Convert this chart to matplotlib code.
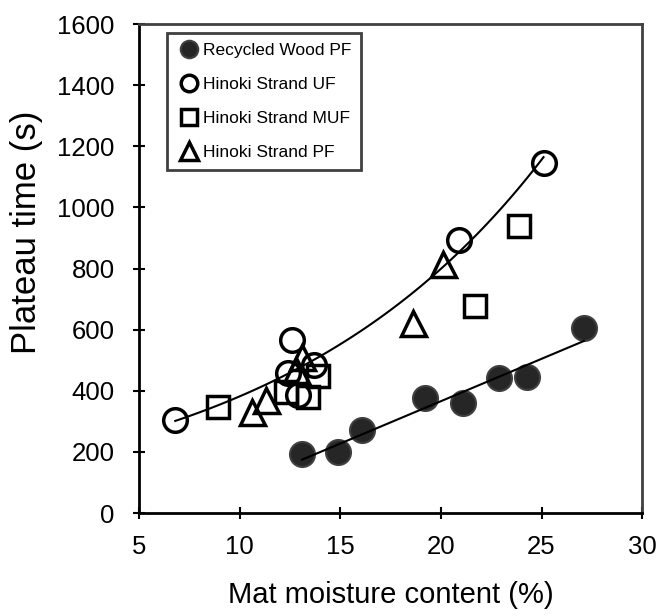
import numpy as np
import matplotlib
matplotlib.use('Agg')
import matplotlib.pyplot as plt

plt.rcParams['font.family'] = ['Liberation Sans', 'DejaVu Sans']

# data
rw_x = [13.1, 14.9, 16.1, 19.2, 21.1, 22.9, 24.3, 27.1]
rw_y = [193, 200, 272, 375, 359, 443, 446, 605]

uf_x = [6.8, 12.4, 12.6, 12.9, 13.7, 20.9, 25.1]
uf_y = [304, 457, 567, 386, 484, 893, 1144]

muf_x = [8.9, 12.3, 13.4, 13.9, 21.7, 23.9]
muf_y = [348, 397, 381, 448, 678, 939]

pf_x = [10.6, 11.3, 12.8, 13.1, 18.6, 20.1]
pf_y = [331, 370, 468, 511, 621, 815]

labels = ['Recycled Wood PF', 'Hinoki Strand UF', 'Hinoki Strand MUF', 'Hinoki Strand PF']

fig = plt.figure(figsize=(6.62, 6.16), dpi=100)
ax = fig.add_axes([0.21, 0.167, 0.76, 0.794])

ax.plot(rw_x, rw_y, 'o', ms=18, mfc='#262626', mec='#404040', mew=1.5, ls='none', label=labels[0])
ax.plot(uf_x, uf_y, 'o', ms=17, mfc='none', mec='black', mew=2.5, ls='none', label=labels[1])
ax.plot(muf_x, muf_y, 's', ms=16, mfc='none', mec='black', mew=2.5, ls='none', label=labels[2])
ax.plot(pf_x, pf_y, '^', ms=18, mfc='none', mec='black', mew=2.5, ls='none', label=labels[3])

# trend lines
b, a = np.polyfit(uf_x, np.log(uf_y), 1)
xs = np.linspace(min(uf_x), max(uf_x), 100)
ax.plot(xs, np.exp(a) * np.exp(b * xs), color='black', lw=1.5)

m, c = np.polyfit(rw_x, rw_y, 1)
xs = np.linspace(min(rw_x), max(rw_x), 10)
ax.plot(xs, m * xs + c, color='black', lw=1.5)

ax.set_xlim(5, 30)
ax.set_ylim(0, 1600)
ax.set_xticks(np.arange(5, 31, 5))
ax.set_yticks(np.arange(0, 1601, 200))
ax.tick_params(direction='inout', length=9, width=1.5, labelsize=18.5)
ax.tick_params(axis='x', pad=11)
ax.tick_params(axis='y', pad=13)
for s in ['left', 'bottom']:
    ax.spines[s].set_linewidth(2)
    ax.spines[s].set_color('black')
for s in ['right', 'top']:
    ax.spines[s].set_linewidth(2)
    ax.spines[s].set_color('#404040')

ax.set_xlabel('Mat moisture content (%)', fontsize=21, labelpad=16)
ax.set_ylabel('Plateau time (s)', fontsize=25)
ax.yaxis.set_label_coords(-0.19, 0.575)

leg = ax.legend(loc='upper left', bbox_to_anchor=(0.0557, 0.9816), fontsize=12.5,
                markerscale=0.7, handlelength=1.4, handletextpad=0.1,
                borderpad=0.55, labelspacing=1.1, fancybox=False, framealpha=1,
                edgecolor='#404040', borderaxespad=0)
leg.get_frame().set_linewidth(2)

fig.savefig('out.png', dpi=100)
